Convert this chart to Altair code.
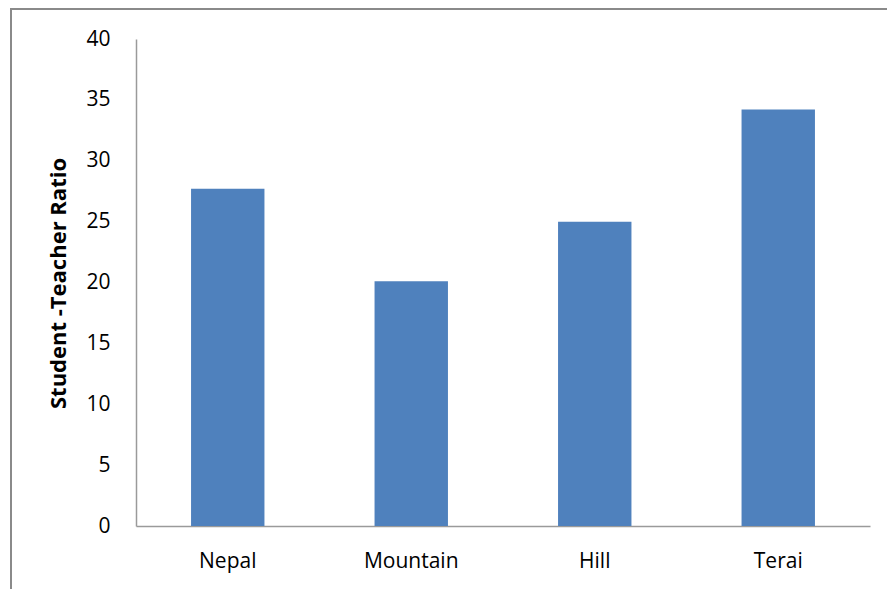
import altair as alt
import pandas as pd

# Student-teacher ratio by ecological region
regions = ["Nepal", "Mountain", "Hill", "Terai"]
ratios = [27.7, 20.1, 25.0, 34.2]

df = pd.DataFrame({"region": regions, "ratio": ratios})

FONT = "Open Sans"
AXIS_GRAY = "#9a9a9a"

bars = alt.Chart(df).mark_bar(color="#4F81BD").encode(
    x=alt.X(
        "region:N",
        sort=regions,
        scale=alt.Scale(paddingInner=0.6, paddingOuter=0.3),
        axis=alt.Axis(
            title=None,
            labelAngle=0,
            labelFont=FONT,
            labelFontSize=21,
            labelColor="#000000",
            labelPadding=24,
            ticks=False,
            domainColor=AXIS_GRAY,
            domainWidth=1.5,
        ),
    ),
    y=alt.Y(
        "ratio:Q",
        scale=alt.Scale(domain=[0, 40]),
        axis=alt.Axis(
            title="Student -Teacher Ratio",
            titleFont=FONT,
            titleFontSize=22,
            titleFontWeight="bold",
            titleColor="#000000",
            titleAngle=-90,
            titleX=-78,
            titleY=244,
            titleAlign="center",
            titleBaseline="middle",
            values=[0, 5, 10, 15, 20, 25, 30, 35, 40],
            labelFont=FONT,
            labelFontSize=21,
            labelColor="#000000",
            labelPadding=26,
            ticks=False,
            grid=False,
            domainColor=AXIS_GRAY,
            domainWidth=1.5,
        ),
    ),
)

# Outer frame lines (top and left edges of the chart border)
frame_top = alt.Chart(df).mark_rule(color="#8a8a8a", strokeWidth=2).encode(
    x=alt.value(-126), x2=alt.value(760), y=alt.value(-30)
)
frame_left = alt.Chart(df).mark_rule(color="#8a8a8a", strokeWidth=2).encode(
    x=alt.value(-125), y=alt.value(-31), y2=alt.value(560)
)

chart = (
    alt.layer(bars, frame_top, frame_left)
    .properties(
        width=734,
        height=487,
        autosize=alt.AutoSizeParams(type="none"),
        padding={"left": 136, "top": 39, "right": 17, "bottom": 63},
        background="#ffffff",
    )
    .configure_view(stroke=None)
)

chart.save("out.html", embed_options={"renderer": "svg", "actions": False})
